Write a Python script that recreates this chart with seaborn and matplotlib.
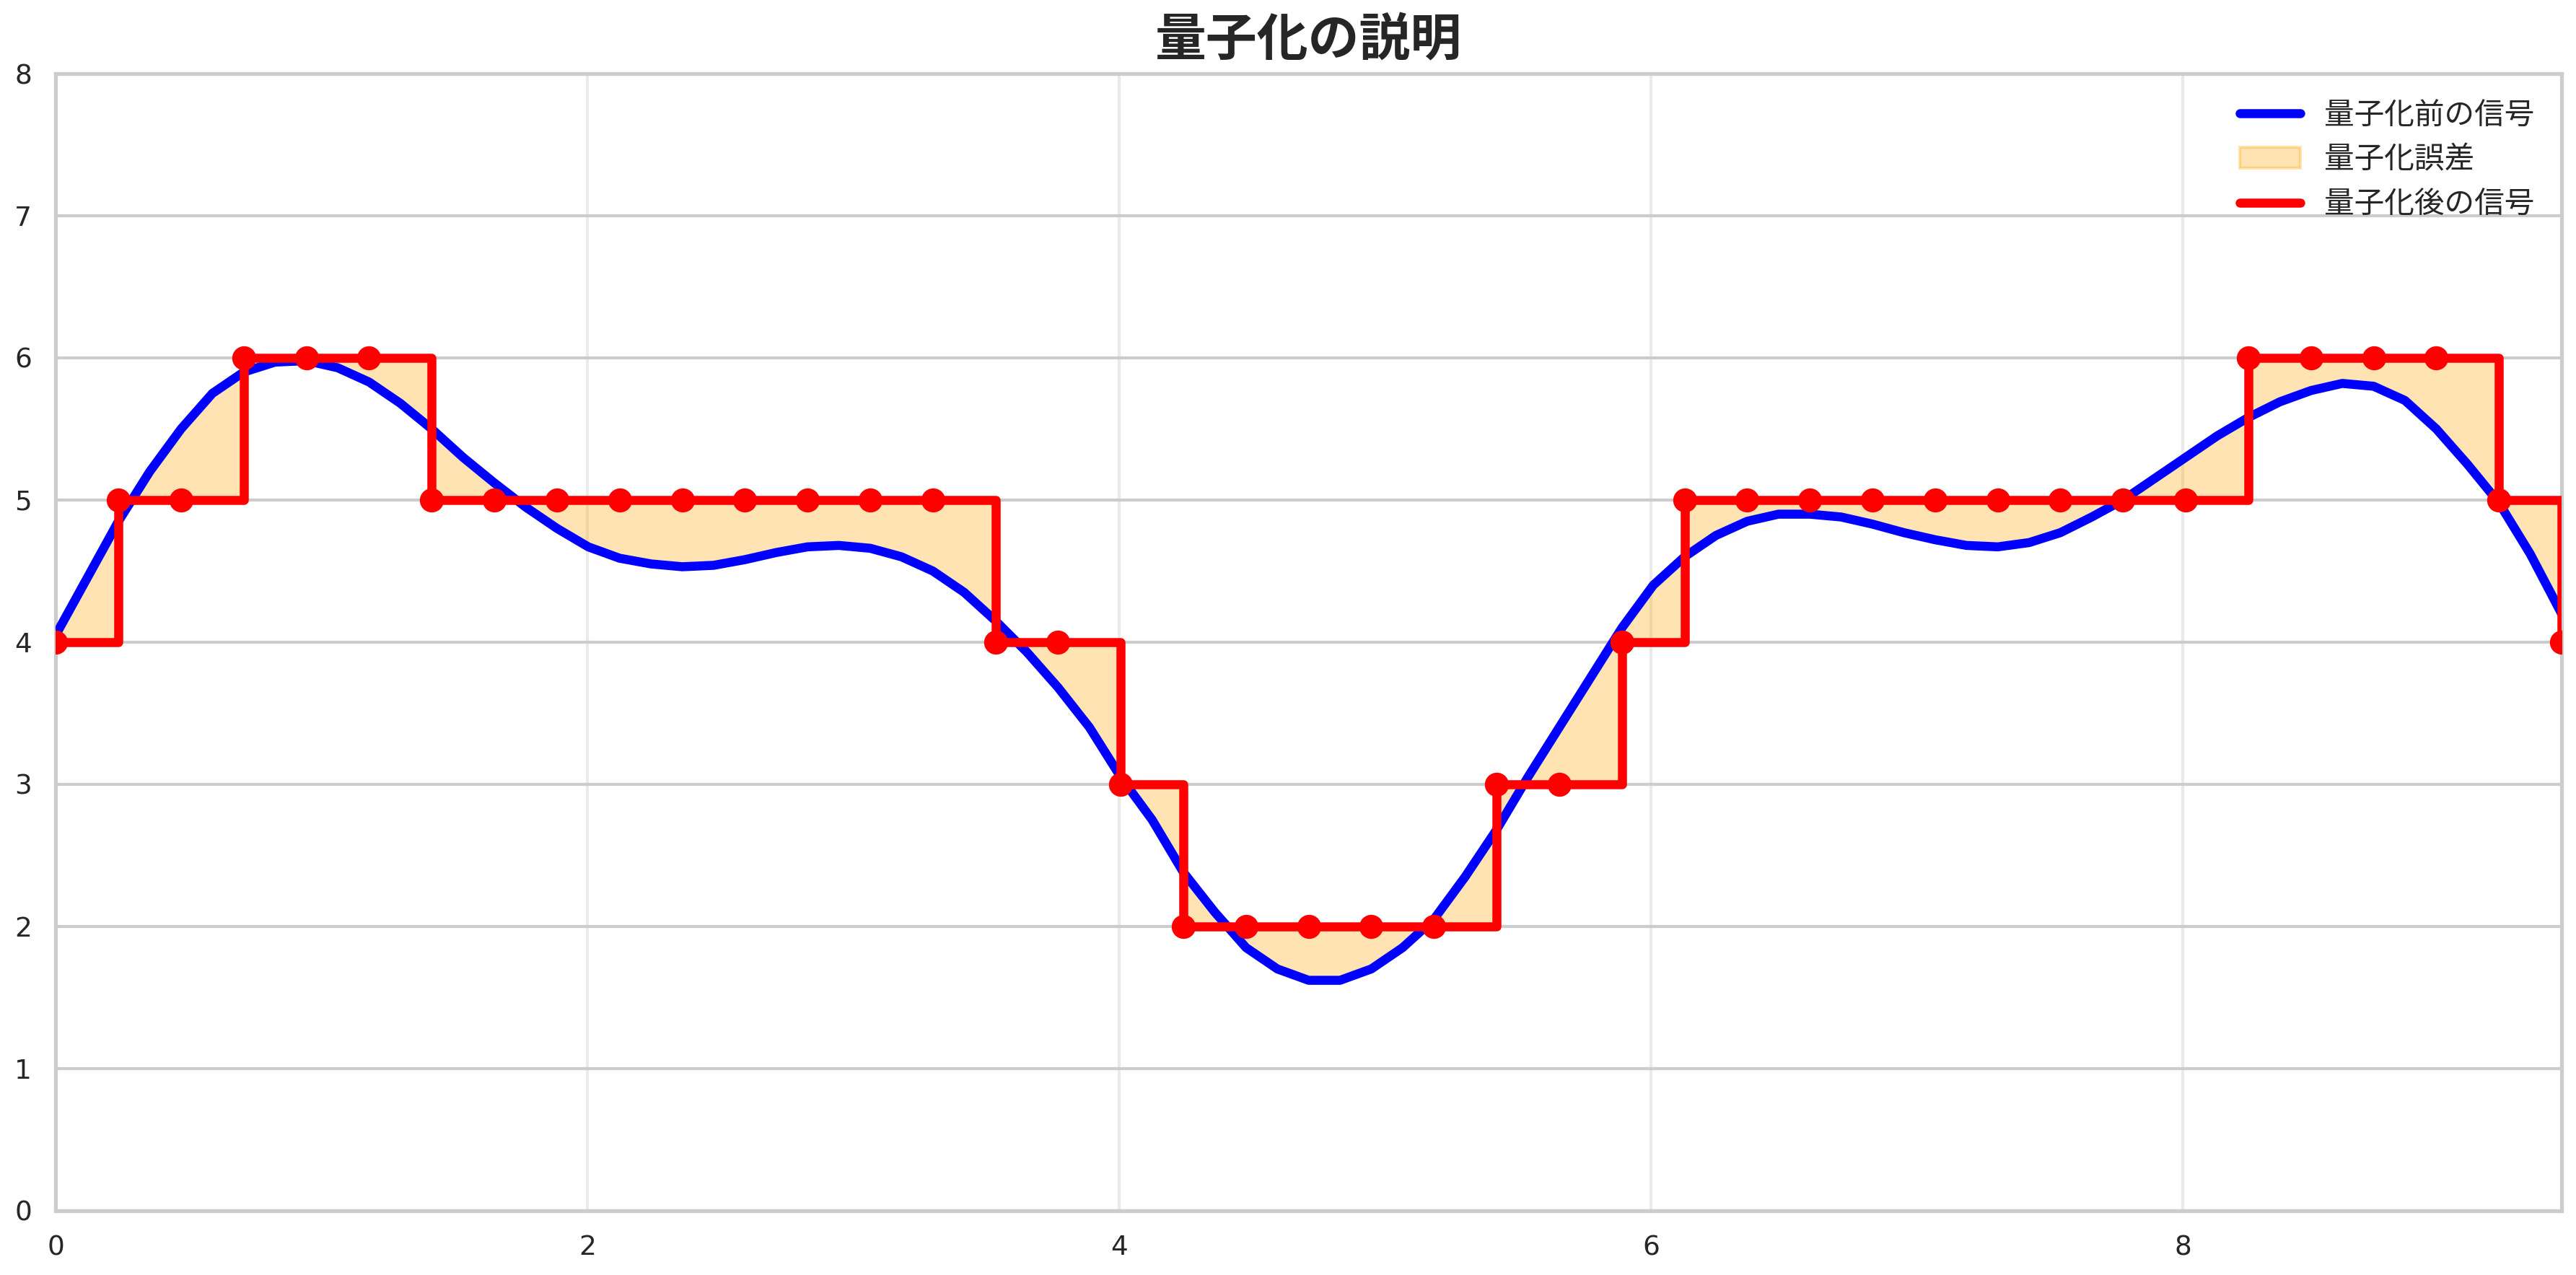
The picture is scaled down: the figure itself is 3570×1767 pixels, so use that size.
import numpy as np
import pandas as pd
import matplotlib
matplotlib.use("Agg")
import matplotlib.pyplot as plt
import seaborn as sns

# signal, 81 points over 0..3*pi
signal = [4.05, 4.45, 4.85, 5.2, 5.5, 5.75, 5.9, 5.97, 5.98, 5.93,
          5.83, 5.68, 5.5, 5.3, 5.12, 4.95, 4.8, 4.67, 4.59, 4.55,
          4.53, 4.54, 4.58, 4.63, 4.67, 4.68, 4.66, 4.6, 4.5, 4.35,
          4.15, 3.93, 3.68, 3.4, 3.05, 2.75, 2.38, 2.1, 1.85, 1.7,
          1.62, 1.62, 1.7, 1.85, 2.05, 2.35, 2.68, 3.05, 3.4, 3.75,
          4.1, 4.4, 4.6, 4.75, 4.85, 4.9, 4.9, 4.88, 4.83, 4.77,
          4.72, 4.68, 4.67, 4.7, 4.77, 4.88, 5.0, 5.15, 5.3, 5.45,
          5.58, 5.69, 5.77, 5.82, 5.8, 5.7, 5.5, 5.25, 4.98, 4.62, 4.2]
# quantized samples (41 points)
quantized = [4, 5, 5, 6, 6, 6, 5, 5, 5, 5, 5, 5, 5, 5, 5, 4, 4, 3, 2, 2,
             2, 2, 2, 3, 3, 4, 5, 5, 5, 5, 5, 5, 5, 5, 5, 6, 6, 6, 6, 5, 4]

x_end = 3 * np.pi
x_sig = np.linspace(0, x_end, len(signal))
x_q = np.linspace(0, x_end, len(quantized))
dx = x_q[1] - x_q[0]

sns.set_theme(style="whitegrid")
plt.rcParams['font.family'] = ['DejaVu Sans', 'Noto Sans CJK JP']

fig, ax = plt.subplots(figsize=(11.9, 5.89), dpi=300)

df_sig = pd.DataFrame({'x': x_sig, 'y': signal})
sns.lineplot(data=df_sig, x='x', y='y', ax=ax, color='blue', linewidth=3,
             label='量子化前の信号', zorder=3)

# error fill between the curve and the held value
xd = np.linspace(0, x_end, 3000)
sd = np.interp(xd, x_sig, signal)
qd = np.array(quantized)[np.minimum((xd / dx + 1e-9).astype(int), len(quantized) - 1)]
ax.fill_between(xd, sd, qd, color='orange', alpha=0.3, label='量子化誤差', zorder=1)

ax.step(x_q, quantized, where='post', color='red', linewidth=3,
        label='量子化後の信号', zorder=4)
ax.plot(x_q, quantized, 'o', color='red', markersize=7, zorder=5)

ax.set_xlim(0, x_end)
ax.set_ylim(0, 8)
ax.set_xlabel('')
ax.set_ylabel('')
ax.set_xticks([0, 2, 4, 6, 8])
ax.set_yticks(range(0, 9))
ax.tick_params(labelsize=9, pad=2)
ax.grid(axis='x', alpha=0.4)
ax.set_title('量子化の説明', fontsize=17, fontweight='bold',
             family=['Noto Sans CJK JP', 'DejaVu Sans'])
leg = ax.legend(loc='upper right', fontsize=10, frameon=False)
for t in leg.get_texts():
    t.set_family(['Noto Sans CJK JP', 'DejaVu Sans'])

plt.tight_layout(pad=0.4)
plt.savefig('out.png', dpi=300)
